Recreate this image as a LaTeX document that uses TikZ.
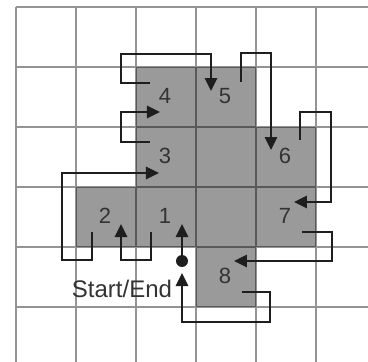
\documentclass[tikz,border=0pt]{standalone}
\usepackage{fontspec}
\setmainfont{Liberation Sans}
\usetikzlibrary{arrows.meta}
\definecolor{cellgray}{HTML}{9A9A9A}
\definecolor{ink}{HTML}{1E1E1E}
\definecolor{txt}{HTML}{333333}
\begin{document}
\begin{tikzpicture}[x=1pt,y=-1pt,
  cellfill/.style={fill=cellgray,draw=none},
  gridline/.style={draw=black,draw opacity=0.42,line width=2pt},
  conn/.style={draw=ink,line width=2.6pt,line join=miter,
    -{Triangle[length=13pt,width=12pt]}},
  num/.style={text=txt,font=\fontsize{22}{22}\selectfont,inner sep=0pt},
  dotmark/.style={circle,fill=ink,inner sep=0pt,minimum size=12pt}]
\useasboundingbox (0,0) rectangle (368,362);
\fill[white] (0,0) rectangle (368,362);
% shaded squares of the route
\foreach \c/\r in {2/1,3/1,2/2,3/2,4/2,1/3,2/3,3/3,4/3,3/4}
  \path[cellfill] ({16+60*\c},{7+60*\r}) rectangle ++(60,60);
% grid
\path[gridline]
  (16,7) -- (16,362) (76,7) -- (76,362) (136,7) -- (136,362)
  (196,7) -- (196,362) (256,7) -- (256,362) (316,7) -- (316,362)
  (16,7) -- (368,7) (16,67) -- (368,67) (16,127) -- (368,127)
  (16,187) -- (368,187) (16,247) -- (368,247) (16,307) -- (368,307);
% cell numbers
\node[num] (n1) at (165,216) {1};
\node[num] (n2) at (105,216) {2};
\node[num] (n3) at (165,156) {3};
\node[num] (n4) at (165,96) {4};
\node[num] (n5) at (225,96) {5};
\node[num] (n6) at (285,156) {6};
\node[num] (n7) at (285,216) {7};
\node[num] (n8) at (225,276) {8};
\node[text=txt,font=\fontsize{24}{24}\selectfont,inner sep=0pt] (se) at (122,289) {Start/End};
% start / end point
\node[dotmark] (start) at (182,261) {};
\coordinate (in1) at (182,224);
\coordinate (in2) at (121,224);
\coordinate (in3) at (159,173);
\coordinate (in4) at (160,112);
\coordinate (in5) at (211,91);
\coordinate (in6) at (271,150);
\coordinate (in7) at (294,202);
\coordinate (in8) at (234,261);
\coordinate (back) at (182,273);
\coordinate (out1) at (151,232);
\coordinate (out2) at (92,232);
\coordinate (out3) at (150,142);
\coordinate (out4) at (150,83);
\coordinate (out5) at (241,82);
\coordinate (out6) at (300,140);
\coordinate (out7) at (302,232);
\coordinate (out8) at (242,292);
% route
\draw[conn] (start.center) -- (in1);
\draw[conn] (out1) -- (151,260) -- (121,260) -- (in2);
\draw[conn] (out2) -- (92,260) -- (62,260) -- (62,173) -- (in3);
\draw[conn] (out3) -- (121,142) -- (121,112) -- (in4);
\draw[conn] (out4) -- (121,83) -- (121,54) -- (211,54) -- (in5);
\draw[conn] (out5) -- (241,53) -- (271,53) -- (in6);
\draw[conn] (out6) -- (300,112) -- (331,112) -- (331,202) -- (in7);
\draw[conn] (out7) -- (332,232) -- (332,261) -- (in8);
\draw[conn] (out8) -- (270,292) -- (270,322) -- (182,322) -- (back);
\end{tikzpicture}
\end{document}
